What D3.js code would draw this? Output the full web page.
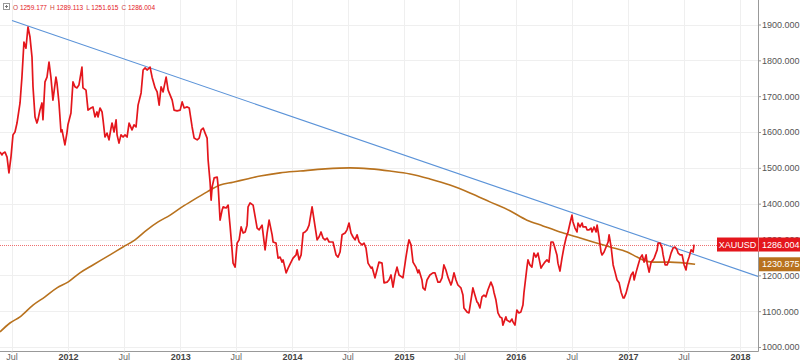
<!DOCTYPE html>
<html>
<head>
<meta charset="utf-8">
<script src="https://cdn.jsdelivr.net/npm/d3@7"></script>
<style>
  body { margin: 0; background: #fff; }
  svg { display: block; font-family: "Liberation Sans", Arial, sans-serif; }
</style>
</head>
<body>
<svg id="chart" width="800" height="363"></svg>
<script>
// weekly XAUUSD closes, [decimal year, price]
const goldClose = [
  [2011.393,1544],[2011.411,1536],[2011.420,1541],[2011.438,1544],[2011.456,1530],[2011.473,1486],
  [2011.491,1530],[2011.509,1592],[2011.527,1600],[2011.545,1625],[2011.572,1681],[2011.589,1753],
  [2011.607,1851],[2011.625,1834],[2011.643,1893],[2011.661,1865],[2011.679,1809],[2011.688,1726],
  [2011.706,1642],[2011.723,1625],[2011.732,1634],[2011.750,1661],[2011.768,1681],[2011.777,1634],
  [2011.795,1740],[2011.813,1753],[2011.831,1795],[2011.848,1753],[2011.866,1689],[2011.893,1753],
  [2011.902,1737],[2011.920,1681],[2011.938,1600],[2011.947,1606],[2011.973,1564],[2011.991,1597],
  [2012.000,1620],[2012.027,1653],[2012.045,1740],[2012.063,1726],[2012.080,1723],[2012.098,1731],
  [2012.125,1781],[2012.134,1723],[2012.161,1717],[2012.179,1661],[2012.205,1667],[2012.223,1670],
  [2012.241,1642],[2012.259,1656],[2012.268,1642],[2012.286,1667],[2012.304,1656],[2012.313,1634],
  [2012.330,1586],[2012.348,1597],[2012.366,1578],[2012.384,1611],[2012.393,1625],[2012.411,1600],
  [2012.429,1634],[2012.438,1592],[2012.455,1569],[2012.473,1592],[2012.491,1586],[2012.509,1592],
  [2012.527,1586],[2012.545,1625],[2012.571,1606],[2012.589,1620],[2012.607,1614],[2012.625,1675],
  [2012.652,1709],[2012.670,1773],[2012.688,1779],[2012.705,1773],[2012.732,1781],[2012.750,1753],
  [2012.777,1723],[2012.795,1712],[2012.813,1675],[2012.830,1726],[2012.848,1712],[2012.875,1753],
  [2012.893,1717],[2012.911,1703],[2012.929,1689],[2012.946,1661],[2012.973,1659],[2013.000,1661],
  [2013.018,1684],[2013.036,1667],[2013.063,1670],[2013.081,1667],[2013.107,1614],[2013.125,1583],
  [2013.152,1578],[2013.170,1583],[2013.188,1606],[2013.206,1611],[2013.223,1597],[2013.241,1583],
  [2013.250,1522],[2013.268,1458],[2013.277,1410],[2013.286,1447],[2013.304,1472],[2013.331,1474],
  [2013.340,1447],[2013.357,1354],[2013.375,1382],[2013.384,1391],[2013.411,1388],[2013.429,1396],
  [2013.447,1335],[2013.464,1271],[2013.473,1234],[2013.491,1223],[2013.509,1290],[2013.527,1299],
  [2013.545,1335],[2013.563,1318],[2013.581,1321],[2013.598,1340],[2013.607,1391],[2013.625,1402],
  [2013.652,1396],[2013.688,1332],[2013.706,1327],[2013.732,1340],[2013.759,1271],[2013.777,1318],
  [2013.795,1354],[2013.822,1313],[2013.831,1293],[2013.857,1290],[2013.875,1248],[2013.893,1251],
  [2013.911,1237],[2013.920,1243],[2013.947,1207],[2013.965,1220],[2013.991,1237],[2014.009,1248],
  [2014.036,1257],[2014.045,1271],[2014.063,1243],[2014.081,1257],[2014.099,1318],[2014.116,1321],
  [2014.134,1327],[2014.152,1340],[2014.179,1391],[2014.197,1354],[2014.224,1299],[2014.241,1307],
  [2014.259,1321],[2014.277,1304],[2014.295,1299],[2014.313,1304],[2014.331,1293],[2014.357,1293],
  [2014.366,1293],[2014.393,1257],[2014.411,1251],[2014.429,1265],[2014.447,1313],[2014.474,1318],
  [2014.491,1327],[2014.509,1346],[2014.527,1318],[2014.545,1307],[2014.563,1299],[2014.581,1313],
  [2014.599,1293],[2014.625,1285],[2014.643,1290],[2014.661,1276],[2014.679,1234],[2014.706,1220],
  [2014.715,1223],[2014.741,1193],[2014.759,1215],[2014.777,1237],[2014.804,1234],[2014.822,1179],
  [2014.849,1181],[2014.866,1187],[2014.884,1201],[2014.902,1167],[2014.920,1201],[2014.938,1223],
  [2014.956,1201],[2014.983,1195],[2014.991,1193],[2015.018,1251],[2015.036,1285],[2015.045,1299],
  [2015.063,1285],[2015.081,1237],[2015.107,1223],[2015.125,1207],[2015.134,1215],[2015.161,1187],
  [2015.170,1165],[2015.188,1159],[2015.206,1187],[2015.232,1201],[2015.259,1207],[2015.277,1207],
  [2015.304,1181],[2015.322,1181],[2015.340,1193],[2015.357,1229],[2015.375,1215],[2015.393,1195],
  [2015.420,1173],[2015.429,1181],[2015.447,1207],[2015.465,1187],[2015.482,1173],[2015.509,1165],
  [2015.527,1145],[2015.536,1109],[2015.563,1098],[2015.581,1095],[2015.599,1131],[2015.616,1165],
  [2015.634,1145],[2015.652,1126],[2015.661,1123],[2015.679,1109],[2015.697,1140],[2015.715,1145],
  [2015.732,1140],[2015.750,1159],[2015.777,1181],[2015.795,1167],[2015.804,1153],[2015.822,1131],
  [2015.840,1095],[2015.858,1084],[2015.875,1081],[2015.884,1061],[2015.911,1084],[2015.920,1075],
  [2015.947,1070],[2015.965,1078],[2015.974,1070],[2015.992,1061],[2016.009,1103],[2016.027,1095],
  [2016.045,1098],[2016.063,1117],[2016.072,1151],[2016.099,1223],[2016.108,1243],[2016.125,1229],
  [2016.143,1223],[2016.161,1262],[2016.179,1251],[2016.197,1262],[2016.206,1248],[2016.224,1220],
  [2016.241,1229],[2016.259,1237],[2016.277,1243],[2016.295,1237],[2016.313,1293],[2016.331,1293],
  [2016.340,1285],[2016.366,1257],[2016.375,1234],[2016.393,1212],[2016.411,1248],[2016.429,1279],
  [2016.447,1304],[2016.465,1321],[2016.483,1346],[2016.500,1368],[2016.509,1349],[2016.527,1332],
  [2016.545,1321],[2016.554,1346],[2016.572,1335],[2016.590,1346],[2016.599,1335],[2016.625,1335],
  [2016.634,1327],[2016.652,1327],[2016.670,1332],[2016.679,1321],[2016.697,1335],[2016.715,1321],
  [2016.724,1340],[2016.741,1307],[2016.759,1265],[2016.768,1257],[2016.786,1265],[2016.804,1279],
  [2016.822,1293],[2016.831,1313],[2016.849,1279],[2016.867,1229],[2016.884,1209],[2016.902,1187],
  [2016.920,1179],[2016.938,1153],[2016.956,1137],[2016.965,1137],[2016.983,1151],[2017.001,1173],
  [2017.027,1201],[2017.045,1209],[2017.054,1187],[2017.072,1209],[2017.090,1229],[2017.108,1248],
  [2017.126,1257],[2017.143,1237],[2017.161,1257],[2017.170,1234],[2017.188,1209],[2017.206,1237],
  [2017.224,1243],[2017.233,1248],[2017.260,1271],[2017.268,1290],[2017.286,1290],[2017.304,1276],
  [2017.313,1257],[2017.331,1229],[2017.349,1229],[2017.367,1243],[2017.384,1262],[2017.402,1276],
  [2017.420,1279],[2017.438,1271],[2017.447,1262],[2017.465,1257],[2017.483,1257],[2017.501,1229],
  [2017.518,1215],[2017.527,1234],[2017.545,1251],[2017.563,1271],[2017.581,1265],[2017.590,1286.004]
];

// 200-period moving average
const movingAvg = [
  [2011.393,1042],[2011.482,1067],[2011.572,1084],[2011.688,1117],[2011.795,1140],[2011.902,1165],
  [2012.000,1181],[2012.107,1207],[2012.223,1229],[2012.375,1257],[2012.491,1279],[2012.598,1299],
  [2012.705,1327],[2012.804,1349],[2012.911,1368],[2013.018,1391],[2013.116,1410],[2013.241,1433],
  [2013.357,1452],[2013.473,1460],[2013.598,1469],[2013.715,1477],[2013.893,1486],[2014.072,1491],
  [2014.295,1497],[2014.518,1500],[2014.697,1497],[2014.875,1491],[2015.054,1483],[2015.232,1469],
  [2015.411,1452],[2015.590,1430],[2015.768,1405],[2015.947,1380],[2016.099,1354],[2016.241,1338],
  [2016.393,1321],[2016.545,1307],[2016.688,1293],[2016.840,1279],[2016.992,1265],[2017.081,1251],
  [2017.134,1243],[2017.224,1237],[2017.375,1237],[2017.599,1230.875]
];

// hand-drawn trend line
const trendLine = [[2011.500,1911],[2018.161,1197]];

const ohlc = { O: "1259.177", H: "1289.113", L: "1251.615", C: "1286.004" };
const lastClose = 1286.004;
const lastAvg = 1230.875;

const xTickDates = ["2011-07-01","2012-01-01","2012-07-01","2013-01-01","2013-07-01","2014-01-01",
  "2014-07-01","2015-01-01","2015-07-01","2016-01-01","2016-07-01","2017-01-01","2017-07-01","2018-01-01"];
const yTicks = [1000,1100,1200,1300,1400,1500,1600,1700,1800,1900];

function toDate(yr) {
  const y = Math.floor(yr);
  const a = new Date(y, 0, 1), b = new Date(y + 1, 0, 1);
  return new Date(+a + (yr - y) * (b - a));
}

const svg = d3.select("#chart");
const W = 758, H = 351;

const x = d3.scaleTime()
  .domain([toDate(2011.393), toDate(2018.161)])
  .range([0, W]);
const y = d3.scaleLinear().domain([1000, 1900]).range([347, 24.5]);

svg.append("defs").append("clipPath").attr("id", "plot")
  .append("rect").attr("x", 0).attr("y", 0).attr("width", W).attr("height", H);

// grid
const grid = svg.append("g");
grid.selectAll(".vg").data(xTickDates).enter().append("line")
  .attr("x1", d => Math.round(x(new Date(d))) + 0.5)
  .attr("x2", d => Math.round(x(new Date(d))) + 0.5)
  .attr("y1", 0).attr("y2", H)
  .attr("stroke", "#efefef");
grid.selectAll(".hg").data(yTicks).enter().append("line")
  .attr("x1", 0).attr("x2", W)
  .attr("y1", d => Math.round(y(d)) + 0.5)
  .attr("y2", d => Math.round(y(d)) + 0.5)
  .attr("stroke", "#efefef");

const plot = svg.append("g").attr("clip-path", "url(#plot)");

// last price line
plot.append("line")
  .attr("x1", 0).attr("x2", W)
  .attr("y1", Math.round(y(lastClose)) + 0.5).attr("y2", Math.round(y(lastClose)) + 0.5)
  .attr("stroke", "#ee7070").attr("stroke-width", 1)
  .attr("stroke-dasharray", "1,1");

const line = d3.line()
  .x(d => x(toDate(d[0])))
  .y(d => y(d[1]));

plot.append("path").datum(movingAvg)
  .attr("d", line.curve(d3.curveMonotoneX))
  .attr("fill", "none").attr("stroke", "#b8721e").attr("stroke-width", 1.6);

plot.append("path").datum(trendLine)
  .attr("d", d3.line().x(d => x(toDate(d[0]))).y(d => y(d[1])))
  .attr("fill", "none").attr("stroke", "#5b93d8").attr("stroke-width", 1.1);

plot.append("path").datum(goldClose)
  .attr("d", d3.line().x(d => x(toDate(d[0]))).y(d => y(d[1])))
  .attr("fill", "none").attr("stroke", "#e4161c").attr("stroke-width", 1.7)
  .attr("stroke-linejoin", "round");

// axes
const xAxis = svg.append("g").attr("transform", `translate(0,${H})`)
  .call(d3.axisBottom(x)
    .tickValues(xTickDates.map(d => new Date(d)))
    .tickFormat(d => d.getMonth() === 0 ? d3.timeFormat("%Y")(d) : "Jul")
    .tickSize(2).tickPadding(1));
xAxis.select(".domain").attr("stroke", "#999").attr("d", `M0,0.5H${W + 0.5}`);
xAxis.selectAll(".tick line").attr("stroke", "#ccc");
xAxis.selectAll(".tick text")
  .attr("font-size", 9)
  .attr("font-family", "'Liberation Sans', Arial, sans-serif")
  .attr("fill", d => d.getMonth() === 0 ? "#444" : "#666")
  .attr("font-weight", d => d.getMonth() === 0 ? "bold" : "normal");

const yAxis = svg.append("g").attr("transform", `translate(${W},0)`)
  .call(d3.axisRight(y).tickValues(yTicks).tickFormat(d3.format(".3f")).tickSize(3).tickPadding(1));
yAxis.select(".domain").attr("stroke", "#999").attr("d", `M0.5,0V${H + 0.5}`);
yAxis.selectAll(".tick line").attr("stroke", "#999");
yAxis.selectAll(".tick text")
  .attr("font-size", 9)
  .attr("font-family", "'Liberation Sans', Arial, sans-serif")
  .attr("fill", "#555");

// right side price labels
const yc = y(lastClose);
svg.append("rect").attr("x", 717).attr("y", yc - 7).attr("width", 83).attr("height", 14).attr("fill", "#e4161c");
svg.append("line").attr("x1", W + 0.5).attr("x2", W + 0.5).attr("y1", yc - 7).attr("y2", yc + 7)
  .attr("stroke", "#f08080");
svg.append("text").attr("x", 737.5).attr("y", yc + 3.2).attr("text-anchor", "middle")
  .attr("font-size", 9).attr("fill", "#fff").text("XAUUSD");
svg.append("text").attr("x", 762).attr("y", yc + 3.2)
  .attr("font-size", 9).attr("fill", "#fff").text(d3.format(".3f")(lastClose));

const ya = y(lastAvg);
svg.append("rect").attr("x", W + 1).attr("y", ya - 7).attr("width", 800 - W - 1).attr("height", 14).attr("fill", "#b8721e");
svg.append("text").attr("x", 762).attr("y", ya + 3.2)
  .attr("font-size", 9).attr("fill", "#fff").text(d3.format(".3f")(lastAvg));

// OHLC legend
const lg = svg.append("g").attr("transform", "translate(3,3)");
lg.append("rect").attr("x", 0.5).attr("y", 0.5).attr("width", 6).attr("height", 6)
  .attr("fill", "#fff").attr("stroke", "#999");
lg.append("path").attr("d", "M2,3.5H5M3.5,2V5").attr("stroke", "#777");
const lt = lg.append("text").attr("x", 10).attr("y", 6.5).attr("font-size", 6.5).attr("fill", "#e4161c");
Object.entries(ohlc).forEach(([k, v], i) => {
  lt.append("tspan").attr("fill", "#c44").attr("dx", i ? 3 : 0).text(k + " ");
  lt.append("tspan").text(v);
});
</script>
</body>
</html>
